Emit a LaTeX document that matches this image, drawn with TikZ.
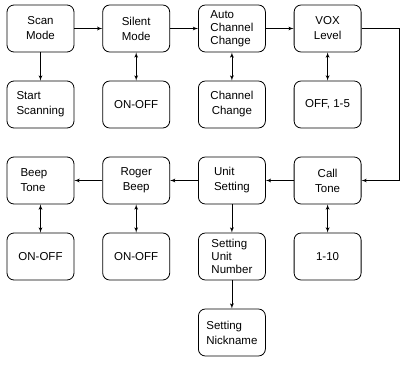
\documentclass[tikz,border=0pt]{standalone}
\usepackage{fontspec}
\setmainfont{Liberation Sans}
\usepackage{tikz}
\usetikzlibrary{shapes,arrows,positioning}
\tikzstyle{box} = [rectangle, draw, rounded corners=7pt, line width=0.8pt, minimum width=67pt, minimum height=47pt, inner sep=2pt, align=center, font=\fontsize{11.5}{15}\selectfont]
\tikzstyle{tight} = [font=\fontsize{11.5}{13}\selectfont]
\tikzstyle{line} = [draw, line width=0.8pt, -latex']
\tikzstyle{both} = [draw, line width=0.8pt, latex'-latex']

\begin{document}
\begin{tikzpicture}[node distance = 95.7pt, auto]
    \useasboundingbox (0,0) rectangle (411pt,-364pt);
    % top row
    \node [box] (scan) at (40.5pt,-28.5pt) {Scan\\Mode};
    \node [box, right of=scan] (silent) {Silent\\Mode};
    \node [box, right of=silent, align=left, tight] (autoch) {Auto\\Channel\\Change};
    \node [box, right of=autoch] (vox) {VOX\\Level};
    \node [box, node distance=76pt, below of=scan, align=left] (start) {Start\\Scanning};
    \node [box, node distance=76pt, below of=silent] (silentval) {ON-OFF};
    \node [box, node distance=76pt, below of=autoch] (chan) {Channel\\Change};
    \node [box, node distance=76pt, below of=vox] (voxval) {OFF, 1-5};
    % bottom row
    \node [box, node distance=76pt, below of=voxval] (call) {Call\\Tone};
    \node [box, left of=call, align=left] (unit) {Unit\\Setting};
    \node [box, left of=unit] (roger) {Roger\\Beep};
    \node [box, left of=roger, align=left, text width=40pt] (beep) {Beep\\Tone};
    \node [box, node distance=76pt, below of=beep] (beepval) {ON-OFF};
    \node [box, node distance=76pt, below of=roger] (rogerval) {ON-OFF};
    \node [box, node distance=76pt, below of=unit, align=left, tight] (number) {Setting\\Unit\\Number};
    \node [box, node distance=76pt, below of=call] (callval) {1-10};
    \node [box, node distance=76pt, below of=number, align=left] (nick) {Setting\\Nickname};

    \path [line] (scan) -- (silent);
    \path [line] (silent) -- (autoch);
    \path [line] (autoch) -- (vox);
    \path [line] (scan) -- (start);
    \path [both] (silent) -- (silentval);
    \path [both] (autoch) -- (chan);
    \path [both] (vox) -- (voxval);
    \path [line] (vox.east) -- ++(38pt,0) |- (call.east);
    \path [line] (call) -- (unit);
    \path [line] (unit) -- (roger);
    \path [line] (roger) -- (beep);
    \path [both] (beep) -- (beepval);
    \path [both] (roger) -- (rogerval);
    \path [both] (call) -- (callval);
    \path [line] (unit) -- (number);
    \path [line] (number) -- (nick);
\end{tikzpicture}
\end{document}
